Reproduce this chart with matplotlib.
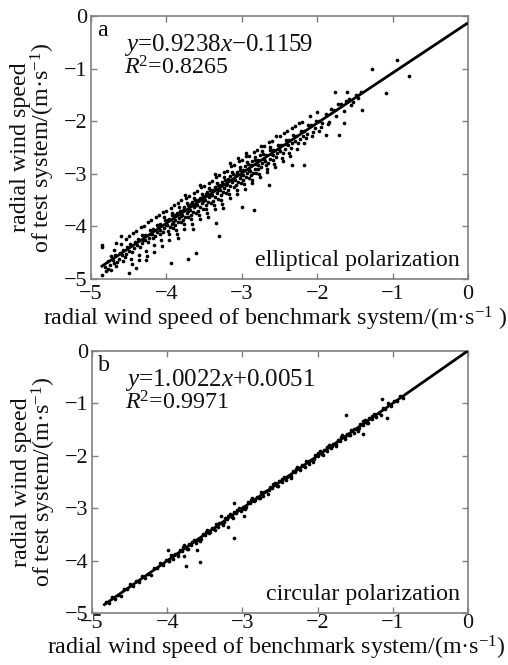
import matplotlib
matplotlib.use("Agg")
import matplotlib.pyplot as plt

plt.rcParams['font.family'] = ['Liberation Serif', 'DejaVu Serif']
plt.rcParams['mathtext.fontset'] = 'custom'
plt.rcParams['mathtext.rm'] = 'Liberation Serif'
plt.rcParams['mathtext.it'] = 'Liberation Serif:italic'
plt.rcParams['mathtext.bf'] = 'Liberation Serif:bold'

# ---------------- data ----------------
ticks = [-5, -4, -3, -2, -1, 0]

# panel a: elliptical polarization (benchmark, test)
points_a = [
    (-4.82,-4.77),(-4.78,-4.65),(-4.75,-4.73),(-4.80,-4.85),(-4.73,-4.57),(-4.77,-4.81),(-4.71,-4.64),
    (-4.68,-4.55),(-4.65,-4.67),(-4.70,-4.45),(-4.63,-4.62),(-4.67,-4.75),(-4.62,-4.51),(-4.69,-4.70),
    (-4.58,-4.44),(-4.55,-4.59),(-4.60,-4.34),(-4.53,-4.52),(-4.57,-4.66),(-4.52,-4.39),(-4.59,-4.55),(-4.54,-4.24),
    (-4.48,-4.34),(-4.45,-4.49),(-4.50,-4.19),(-4.43,-4.42),(-4.47,-4.62),(-4.42,-4.29),(-4.49,-4.46),(-4.44,-4.12),(-4.46,-4.72),
    (-4.38,-4.24),(-4.35,-4.40),(-4.40,-4.09),(-4.33,-4.32),(-4.37,-4.54),(-4.32,-4.16),(-4.39,-4.36),(-4.34,-4.02),(-4.36,-4.64),(-4.31,-4.26),
    (-4.28,-4.16),(-4.25,-4.30),(-4.30,-3.99),(-4.23,-4.22),(-4.27,-4.46),(-4.22,-4.06),(-4.29,-4.26),(-4.24,-3.92),(-4.26,-4.56),(-4.21,-4.14),
    (-4.18,-4.05),(-4.15,-4.19),(-4.20,-3.88),(-4.13,-4.11),(-4.17,-4.35),(-4.12,-3.97),(-4.19,-4.15),(-4.14,-3.83),(-4.16,-4.48),(-4.11,-4.03),(-4.18,-4.23),
    (-4.08,-3.95),(-4.05,-4.11),(-4.10,-3.79),(-4.03,-4.03),(-4.07,-4.25),(-4.02,-3.88),(-4.09,-4.07),(-4.04,-3.73),(-4.06,-4.38),(-4.01,-3.98),(-4.08,-4.15),(-4.03,-3.83),
    (-3.98,-3.88),(-3.95,-4.01),(-4.00,-3.71),(-3.93,-3.95),(-3.97,-4.15),(-3.92,-3.79),(-3.99,-3.98),(-3.94,-3.65),(-3.96,-4.25),(-3.91,-3.91),(-3.98,-4.08),(-3.93,-3.75),(-3.96,-3.85),(-3.91,-4.03),
    (-3.88,-3.78),(-3.85,-3.92),(-3.90,-3.60),(-3.83,-3.84),(-3.87,-4.06),(-3.82,-3.70),(-3.89,-3.88),(-3.84,-3.56),(-3.86,-4.14),(-3.81,-3.80),(-3.88,-3.98),(-3.83,-3.64),(-3.86,-3.74),(-3.81,-3.92),(-3.85,-4.22),
    (-3.78,-3.68),(-3.75,-3.82),(-3.80,-3.50),(-3.73,-3.74),(-3.77,-3.96),(-3.72,-3.60),(-3.79,-3.78),(-3.74,-3.46),(-3.76,-4.04),(-3.71,-3.70),(-3.78,-3.88),(-3.73,-3.56),(-3.76,-3.64),(-3.71,-3.82),(-3.75,-3.40),
    (-3.68,-3.58),(-3.65,-3.72),(-3.70,-3.42),(-3.63,-3.64),(-3.67,-3.86),(-3.62,-3.50),(-3.69,-3.68),(-3.64,-3.36),(-3.66,-3.96),(-3.61,-3.60),(-3.68,-3.78),(-3.63,-3.46),(-3.66,-3.54),(-3.61,-3.74),(-3.65,-4.04),
    (-3.58,-3.50),(-3.55,-3.64),(-3.60,-3.32),(-3.53,-3.56),(-3.57,-3.78),(-3.52,-3.42),(-3.59,-3.60),(-3.54,-3.26),(-3.56,-3.86),(-3.51,-3.52),(-3.58,-3.70),(-3.53,-3.38),(-3.56,-3.46),(-3.51,-3.66),(-3.55,-3.22),
    (-3.48,-3.39),(-3.45,-3.53),(-3.50,-3.23),(-3.43,-3.45),(-3.47,-3.67),(-3.42,-3.31),(-3.49,-3.49),(-3.44,-3.17),(-3.46,-3.75),(-3.41,-3.41),(-3.48,-3.59),(-3.43,-3.27),(-3.46,-3.35),(-3.41,-3.55),(-3.45,-3.83),
    (-3.38,-3.31),(-3.35,-3.45),(-3.40,-3.13),(-3.33,-3.37),(-3.37,-3.59),(-3.32,-3.21),(-3.39,-3.41),(-3.34,-3.07),(-3.36,-3.67),(-3.31,-3.31),(-3.38,-3.51),(-3.33,-3.17),(-3.36,-3.25),(-3.31,-3.47),(-3.35,-3.01),
    (-3.28,-3.21),(-3.25,-3.35),(-3.30,-3.03),(-3.23,-3.27),(-3.27,-3.49),(-3.22,-3.11),(-3.29,-3.31),(-3.24,-2.97),(-3.26,-3.57),(-3.21,-3.21),(-3.28,-3.41),(-3.23,-3.07),(-3.26,-3.15),(-3.21,-3.37),(-3.25,-3.65),
    (-3.18,-3.10),(-3.15,-3.24),(-3.20,-2.94),(-3.13,-3.16),(-3.17,-3.38),(-3.12,-3.00),(-3.19,-3.20),(-3.14,-2.86),(-3.16,-3.46),(-3.11,-3.10),(-3.18,-3.30),(-3.13,-2.96),(-3.16,-3.04),(-3.11,-3.26),(-3.15,-2.80),
    (-3.08,-3.02),(-3.05,-3.16),(-3.10,-2.84),(-3.03,-3.08),(-3.07,-3.30),(-3.02,-2.92),(-3.09,-3.12),(-3.04,-2.76),(-3.06,-3.38),(-3.01,-3.02),(-3.08,-3.22),(-3.03,-2.88),(-3.06,-2.96),(-3.01,-3.18),(-3.05,-2.70),
    (-2.98,-2.92),(-2.95,-3.06),(-3.00,-2.74),(-2.93,-2.98),(-2.97,-3.20),(-2.92,-2.82),(-2.99,-3.02),(-2.94,-2.66),(-2.96,-3.28),(-2.91,-2.92),(-2.98,-3.12),(-2.93,-2.78),(-2.96,-2.86),(-2.91,-3.08),(-2.95,-2.60),
    (-2.88,-2.84),(-2.85,-2.98),(-2.90,-2.66),(-2.83,-2.90),(-2.87,-3.12),(-2.82,-2.74),(-2.89,-2.94),(-2.84,-2.58),(-2.86,-3.18),(-2.81,-2.82),(-2.88,-3.02),(-2.83,-2.68),(-2.86,-2.76),(-2.81,-2.98),
    (-2.78,-2.73),(-2.75,-2.87),(-2.80,-2.55),(-2.73,-2.79),(-2.77,-3.01),(-2.72,-2.63),(-2.79,-2.83),(-2.74,-2.47),(-2.76,-3.07),(-2.71,-2.71),(-2.78,-2.91),(-2.73,-2.57),(-2.76,-2.65),
    (-2.68,-2.65),(-2.65,-2.79),(-2.70,-2.47),(-2.63,-2.71),(-2.67,-2.91),(-2.62,-2.55),(-2.69,-2.75),(-2.64,-2.39),(-2.66,-2.97),(-2.61,-2.63),(-2.68,-2.83),(-2.63,-2.49),
    (-2.58,-2.55),(-2.55,-2.69),(-2.60,-2.37),(-2.53,-2.61),(-2.57,-2.81),(-2.52,-2.45),(-2.59,-2.65),(-2.54,-2.29),(-2.56,-2.87),(-2.51,-2.53),(-2.58,-2.73),
    (-2.48,-2.46),(-2.45,-2.60),(-2.50,-2.28),(-2.43,-2.52),(-2.47,-2.70),(-2.42,-2.36),(-2.49,-2.56),(-2.44,-2.22),(-2.46,-2.76),(-2.41,-2.44),
    (-2.38,-2.36),(-2.35,-2.50),(-2.40,-2.18),(-2.33,-2.42),(-2.37,-2.60),(-2.32,-2.26),(-2.39,-2.46),(-2.34,-2.12),(-2.36,-2.66),
    (-2.28,-2.28),(-2.25,-2.42),(-2.30,-2.10),(-2.23,-2.34),(-2.27,-2.52),(-2.22,-2.18),(-2.29,-2.38),(-2.24,-2.04),
    (-2.18,-2.18),(-2.15,-2.32),(-2.20,-2.02),(-2.13,-2.24),(-2.17,-2.42),(-2.12,-2.08),(-2.19,-2.28),
    (-2.08,-2.07),(-2.05,-2.21),(-2.10,-1.91),(-2.03,-2.13),(-2.07,-2.29),(-2.02,-1.99),
    (-1.98,-1.99),(-1.95,-2.11),(-2.00,-1.83),(-1.93,-2.03),(-1.97,-2.19),
    (-1.88,-1.87),(-1.85,-2.01),(-1.82,-1.77),(-1.86,-2.05),
    (-1.78,-1.78),(-1.75,-1.90),(-1.72,-1.68),
    (-1.68,-1.68),(-1.65,-1.80),(-1.62,-1.61),
    (-1.58,-1.58),(-1.55,-1.70),(-1.52,-1.64),
    (-1.48,-1.51),(-1.46,-1.56),(-1.42,-1.44),
    # scattered outliers
    (-0.94,-0.84),(-1.27,-1.00),(-0.78,-1.14),(-1.09,-1.47),(-1.40,-1.78),(-1.77,-1.45),(-1.60,-1.45),
    (-1.71,-2.27),(-1.88,-2.26),(-1.65,-2.04),(-2.17,-2.84),(-2.33,-2.84),(-2.64,-3.22),(-2.84,-3.68),
    (-3.00,-3.63),(-3.30,-4.18),(-3.34,-3.94),(-3.61,-4.50),(-3.72,-4.62),(-3.94,-4.70),(-4.85,-4.36),
    (-4.85,-4.40),(-4.67,-4.32),(-4.60,-4.19),(-4.49,-4.89),(-4.40,-4.79),(-4.27,-4.64),(-4.74,-4.82),(-4.85,-4.92),
]
line_a_x = [-4.87, 0.0]
line_a_y = [-4.77, -0.13]

# panel b: circular polarization (benchmark, test)
points_b = [
    (-4.82,-4.79),(-4.78,-4.80),(-4.74,-4.69),(-4.70,-4.74),(-4.66,-4.65),(-4.62,-4.68),(-4.58,-4.54),(-4.54,-4.55),(-4.50,-4.44),(-4.46,-4.49),
    (-4.42,-4.39),(-4.38,-4.40),(-4.34,-4.29),(-4.30,-4.34),(-4.26,-4.25),(-4.22,-4.28),(-4.18,-4.14),(-4.14,-4.15),(-4.10,-4.04),(-4.06,-4.09),
    (-4.02,-3.99),(-3.98,-4.00),(-3.95,-3.90),(-3.92,-3.96),(-3.89,-3.88),(-3.86,-3.92),(-3.83,-3.79),(-3.80,-3.81),(-3.77,-3.71),(-3.74,-3.77),
    (-3.71,-3.68),(-3.68,-3.70),(-3.65,-3.60),(-3.62,-3.66),(-3.59,-3.58),(-3.56,-3.62),(-3.53,-3.49),(-3.50,-3.51),(-3.47,-3.41),(-3.44,-3.47),
    (-3.41,-3.38),(-3.38,-3.40),(-3.35,-3.30),(-3.32,-3.36),(-3.29,-3.28),(-3.26,-3.32),(-3.23,-3.19),(-3.20,-3.21),(-3.17,-3.11),(-3.14,-3.17),
    (-3.11,-3.08),(-3.08,-3.10),(-3.05,-3.00),(-3.02,-3.06),(-2.99,-2.98),(-2.96,-3.02),(-2.93,-2.89),(-2.90,-2.91),(-2.87,-2.81),(-2.84,-2.87),
    (-2.81,-2.78),(-2.78,-2.80),(-2.75,-2.70),(-2.72,-2.76),(-2.69,-2.68),(-2.66,-2.72),(-2.63,-2.59),(-2.60,-2.61),(-2.57,-2.51),(-2.54,-2.57),
    (-2.51,-2.48),(-2.48,-2.50),(-2.45,-2.40),(-2.42,-2.46),(-2.39,-2.38),(-2.36,-2.42),(-2.33,-2.29),(-2.30,-2.31),(-2.27,-2.21),(-2.24,-2.27),
    (-2.21,-2.18),(-2.18,-2.20),(-2.15,-2.10),(-2.12,-2.16),(-2.09,-2.08),(-2.06,-2.12),(-2.03,-1.99),(-2.00,-2.01),(-1.97,-1.91),(-1.94,-1.97),
    (-1.91,-1.88),(-1.88,-1.90),(-1.85,-1.80),(-1.82,-1.86),(-1.79,-1.78),(-1.76,-1.82),(-1.73,-1.69),(-1.70,-1.71),(-1.67,-1.61),(-1.64,-1.67),
    (-1.61,-1.58),(-1.58,-1.60),(-1.55,-1.50),(-1.52,-1.56),(-1.49,-1.48),(-1.46,-1.52),(-1.43,-1.39),(-1.40,-1.41),(-1.37,-1.31),(-1.34,-1.37),
    (-1.31,-1.28),(-1.28,-1.30),(-1.25,-1.20),(-1.22,-1.26),(-1.19,-1.18),(-1.16,-1.22),(-1.13,-1.09),(-1.10,-1.11),(-1.06,-1.00),(-1.02,-1.05),
    (-0.98,-0.95),(-0.94,-0.96),(-0.90,-0.85),(-0.86,-0.90),
    (-3.97,-4.01),(-3.91,-3.89),(-3.85,-3.86),(-3.79,-3.74),(-3.73,-3.78),(-3.67,-3.64),(-3.61,-3.61),(-3.55,-3.58),(-3.49,-3.45),(-3.43,-3.45),
    (-3.37,-3.41),(-3.31,-3.29),(-3.25,-3.26),(-3.19,-3.14),(-3.13,-3.18),(-3.07,-3.04),(-3.01,-3.01),(-2.95,-2.98),(-2.89,-2.85),(-2.83,-2.85),
    (-2.77,-2.81),(-2.71,-2.69),(-2.65,-2.66),(-2.59,-2.54),(-2.53,-2.58),(-2.47,-2.44),(-2.41,-2.41),(-2.35,-2.38),(-2.29,-2.25),(-2.23,-2.25),
    (-2.17,-2.21),(-2.11,-2.09),(-2.05,-2.06),(-1.99,-1.94),(-1.93,-1.98),(-1.87,-1.84),(-1.81,-1.81),(-1.75,-1.78),(-1.69,-1.65),(-1.63,-1.65),
    (-1.57,-1.61),(-1.51,-1.49),(-1.45,-1.46),(-1.39,-1.34),(-1.33,-1.38),(-1.27,-1.24),
    # scattered outliers
    (-1.15,-0.91),(-1.08,-1.28),(-1.62,-1.23),(-1.40,-1.59),(-3.11,-2.91),(-2.98,-3.14),(-3.11,-3.57),
    (-3.19,-3.35),(-3.28,-3.14),(-3.56,-4.03),(-3.75,-4.11),(-3.99,-3.79),(-3.61,-3.79),(-3.77,-3.92),
]
line_b_x = [-4.85, 0.0]
line_b_y = [-4.855, 0.005]

panel_letters = ['a', 'b']
equations = ['$y$=0.9238$x$\u22120.1159', '$y$=1.0022$x$+0.0051']
r2_texts = ['$R$$^2$=0.8265', '$R$$^2$=0.9971']
mode_names = ['elliptical polarization', 'circular polarization']
xlabels = ['radial wind speed of benchmark system/(m\u00b7s$^{\u22121}$ )',
           'radial wind speed of benchmark system/(m\u00b7s$^{\u22121}$)']
ylabel = 'radial wind speed\nof test system/(m\u00b7s$^{\u22121}$)'

# ---------------- figure ----------------
fig = plt.figure(figsize=(5.08, 6.65), dpi=100)
W, H = 508, 665
rects = [(91, 16, 468, 279), (92, 351, 468, 613)]
tick_pads = [4.5, 1.0]
xlabel_y = [-0.098, -0.078]
fs = 17.3
txt_col = '#111111'
frame_col = '#808080'

panels = [(points_a, line_a_x, line_a_y), (points_b, line_b_x, line_b_y)]
for i, (pts, lx, ly) in enumerate(panels):
    l, t, r, b = rects[i]
    ax = fig.add_axes([l / W, 1 - b / H, (r - l) / W, (b - t) / H])
    xs = [p[0] for p in pts]
    ys = [p[1] for p in pts]
    ax.scatter(xs, ys, s=7, c='black', linewidths=0, zorder=2)
    ax.plot(lx, ly, color='black', lw=2.0, zorder=3, solid_capstyle='butt')
    ax.set_xlim(-5, 0)
    ax.set_ylim(-5, 0)
    ax.set_xticks(ticks)
    ax.set_yticks(ticks)
    ax.tick_params(direction='in', length=4, width=1, color=frame_col,
                   top=True, right=True, labelsize=16, labelcolor=txt_col)
    ax.tick_params(axis='x', pad=tick_pads[i])
    ax.tick_params(axis='y', pad=2.5)
    for sp in ax.spines.values():
        sp.set_color(frame_col)
        sp.set_linewidth(1.2)
    ax.set_xlabel(xlabels[i], fontsize=fs, color=txt_col)
    ax.xaxis.set_label_coords(0.49, xlabel_y[i])
    ax.set_ylabel(ylabel, fontsize=fs, color=txt_col, linespacing=0.9)
    ax.yaxis.set_label_coords(-0.09, 0.5)
    ax.text(0.015, 0.985, panel_letters[i], transform=ax.transAxes,
            ha='left', va='top', fontsize=fs, color=txt_col)
    ax.text(0.088, 0.94, equations[i], transform=ax.transAxes,
            ha='left', va='top', fontsize=18, color=txt_col)
    ax.text(0.088, 0.845, r2_texts[i], transform=ax.transAxes,
            ha='left', va='top', fontsize=fs, color=txt_col)
    ax.text(0.978, 0.05, mode_names[i], transform=ax.transAxes,
            ha='right', va='baseline', fontsize=fs, color=txt_col)

fig.savefig('out.png', dpi=100)
